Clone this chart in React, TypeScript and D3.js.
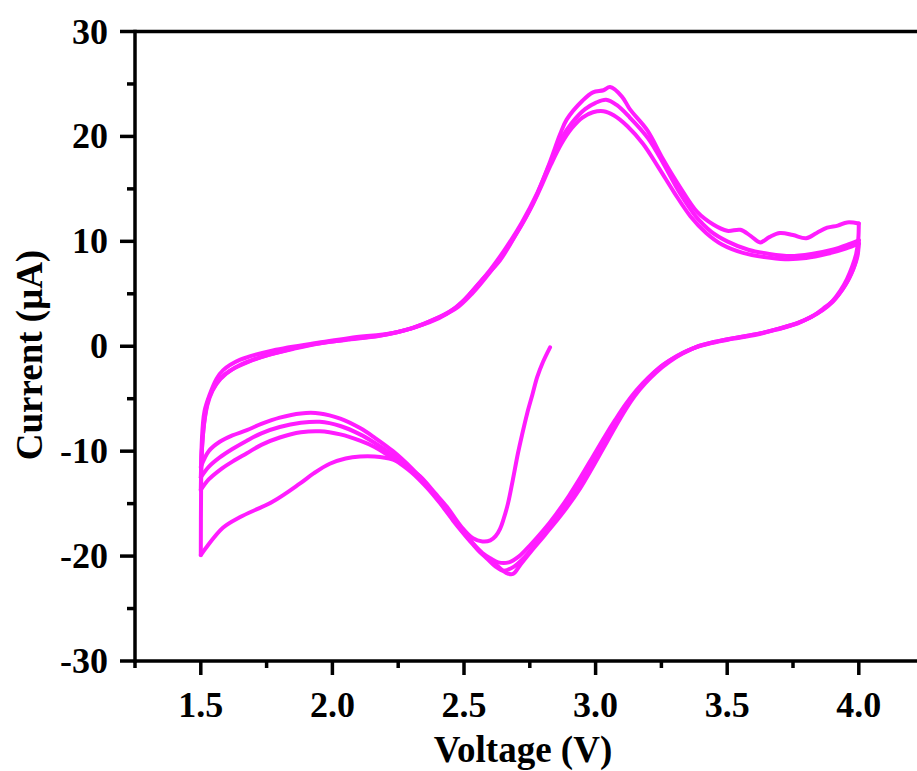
import React from "react";
import * as d3 from "d3";

// ---- Data (Voltage V, Current µA) ----
const initialSweep: [number, number][] = [
  [2.827, -0.1], [2.8, -1.5], [2.778, -2.95], [2.76, -4.6], [2.74, -6.4], [2.72, -8.5], [2.705, -10.2],
  [2.685, -12.8], [2.667, -15.0], [2.65, -16.5], [2.637, -17.4], [2.62, -18.1], [2.6, -18.5], [2.57, -18.6],
  [2.534, -18.3], [2.49, -17.2], [2.435, -15.3], [2.39, -14.0], [2.333, -12.4], [2.28, -11.4], [2.23, -10.8],
  [2.16, -10.5], [2.105, -10.5], [2.05, -10.7], [1.99, -11.2], [1.93, -12.1], [1.876, -13.1], [1.774, -14.8],
  [1.648, -16.3], [1.584, -17.3], [1.52, -19.2], [1.5, -19.9],
];

const forward1: [number, number][] = [
  [1.5, -19.9], [1.501, -14.0], [1.504, -9.0], [1.514, -6.2], [1.534, -4.6], [1.56, -3.1], [1.584, -2.3],
  [1.648, -1.3], [1.774, -0.4], [1.964, 0.4], [2.067, 0.8], [2.245, 1.35], [2.37, 2.3], [2.435, 3.1],
  [2.5, 4.4], [2.56, 6.1], [2.637, 8.2], [2.7, 10.8], [2.762, 13.6], [2.827, 17.6], [2.865, 20.2],
  [2.89, 21.6], [2.95, 23.4], [2.99, 24.2], [3.03, 24.4], [3.055, 24.7], [3.1, 23.8], [3.13, 22.6],
  [3.196, 20.6], [3.257, 17.8], [3.32, 15.2], [3.386, 12.8], [3.447, 11.6], [3.5, 11.0], [3.55, 11.1],
  [3.59, 10.5], [3.625, 9.9], [3.66, 10.4], [3.7, 10.8], [3.75, 10.6], [3.8, 10.3], [3.84, 10.8],
  [3.88, 11.3], [3.92, 11.5], [3.956, 11.8], [4.0, 11.7],
];

const reverse1: [number, number][] = [
  [4.0, 11.7], [3.998, 10.2], [3.99, 8.8], [3.975, 7.6], [3.955, 6.4], [3.93, 5.3], [3.9, 4.3], [3.865, 3.5],
  [3.82, 2.8], [3.766, 2.2], [3.7, 1.7], [3.62, 1.2], [3.53, 0.8], [3.45, 0.4], [3.39, 0.0], [3.33, -0.7],
  [3.28, -1.5], [3.23, -2.5], [3.19, -3.5], [3.15, -4.7], [3.115, -6.0], [3.075, -7.7], [3.03, -9.7],
  [2.985, -11.7], [2.94, -13.6], [2.89, -15.4], [2.84, -17.0], [2.79, -18.5], [2.75, -19.7], [2.715, -20.8],
  [2.686, -21.7], [2.66, -21.6], [2.63, -21.0], [2.6, -20.4], [2.56, -19.6], [2.534, -18.9], [2.49, -17.6],
  [2.458, -16.6], [2.41, -15.0], [2.36, -13.5], [2.3, -12.0], [2.23, -10.7], [2.16, -9.6], [2.105, -9.0],
  [2.03, -8.4], [1.952, -8.1], [1.88, -8.2], [1.8, -8.7], [1.73, -9.4], [1.675, -10.2], [1.62, -11.0],
  [1.572, -11.8], [1.53, -12.7], [1.5, -13.7],
];

const forward2: [number, number][] = [
  [1.5, -13.7], [1.504, -10.0], [1.512, -7.5], [1.525, -5.6], [1.545, -4.2], [1.575, -3.1], [1.62, -2.2],
  [1.68, -1.5], [1.76, -0.8], [1.86, -0.2], [1.96, 0.3], [2.07, 0.7], [2.2, 1.1], [2.3, 1.7], [2.4, 2.7],
  [2.47, 3.7], [2.53, 5.2], [2.6, 7.3], [2.66, 9.4], [2.72, 11.8], [2.78, 14.7], [2.83, 17.6], [2.87, 19.8],
  [2.91, 21.3], [2.96, 22.6], [3.0, 23.2], [3.04, 23.5], [3.08, 23.0], [3.13, 21.8], [3.2, 19.8],
  [3.26, 17.3], [3.32, 14.6], [3.38, 12.4], [3.44, 10.9], [3.5, 10.0], [3.58, 9.2], [3.66, 8.8],
  [3.74, 8.6], [3.82, 8.8], [3.9, 9.2], [3.96, 9.7], [4.0, 10.1],
];

const reverse2: [number, number][] = [
  [4.0, 10.1], [3.995, 8.9], [3.985, 7.8], [3.965, 6.6], [3.94, 5.5], [3.905, 4.4], [3.865, 3.6],
  [3.82, 2.8], [3.766, 2.2], [3.7, 1.7], [3.62, 1.2], [3.53, 0.8], [3.45, 0.4], [3.38, -0.1], [3.32, -0.8],
  [3.26, -1.7], [3.21, -2.8], [3.17, -3.9], [3.13, -5.1], [3.095, -6.5], [3.055, -8.2], [3.01, -10.2],
  [2.965, -12.1], [2.92, -14.0], [2.87, -15.8], [2.82, -17.4], [2.77, -18.9], [2.73, -20.1], [2.69, -21.0],
  [2.65, -21.4], [2.62, -21.0], [2.59, -20.3], [2.56, -19.6], [2.534, -18.8], [2.49, -17.5], [2.458, -16.5],
  [2.41, -14.9], [2.36, -13.3], [2.3, -11.8], [2.23, -10.4], [2.16, -9.2], [2.105, -8.4], [2.03, -7.6],
  [1.952, -7.2], [1.88, -7.3], [1.8, -7.7], [1.73, -8.3], [1.675, -9.0], [1.62, -9.8], [1.572, -10.6],
  [1.53, -11.5], [1.5, -12.5],
];

const forward3: [number, number][] = [
  [1.5, -12.5], [1.505, -9.5], [1.515, -6.8], [1.53, -5.0], [1.555, -3.7], [1.59, -2.7], [1.64, -1.9],
  [1.72, -1.1], [1.82, -0.4], [1.93, 0.2], [2.05, 0.6], [2.18, 1.0], [2.3, 1.7], [2.4, 2.7], [2.47, 3.6],
  [2.53, 5.0], [2.6, 7.1], [2.66, 9.2], [2.72, 11.6], [2.78, 14.5], [2.83, 17.3], [2.87, 19.3], [2.91, 20.8],
  [2.95, 21.8], [2.99, 22.3], [3.03, 22.4], [3.07, 22.0], [3.12, 21.0], [3.18, 19.3], [3.24, 17.0],
  [3.3, 14.6], [3.36, 12.4], [3.42, 10.8], [3.48, 9.7], [3.56, 8.9], [3.64, 8.5], [3.72, 8.3], [3.8, 8.4],
  [3.88, 8.8], [3.95, 9.3], [4.0, 9.8],
];

const reverse3: [number, number][] = [
  [4.0, 9.8], [3.995, 8.6], [3.98, 7.4], [3.96, 6.3], [3.935, 5.3], [3.9, 4.2], [3.86, 3.4], [3.81, 2.7],
  [3.76, 2.1], [3.69, 1.6], [3.61, 1.1], [3.52, 0.7], [3.44, 0.3], [3.37, -0.2], [3.31, -0.9], [3.25, -1.9],
  [3.2, -3.0], [3.155, -4.2], [3.115, -5.5], [3.075, -7.0], [3.035, -8.6], [2.99, -10.5], [2.945, -12.4],
  [2.9, -14.2], [2.85, -16.0], [2.8, -17.6], [2.75, -19.0], [2.71, -20.0], [2.67, -20.6], [2.63, -20.6],
  [2.6, -20.2], [2.57, -19.7], [2.534, -18.8], [2.49, -17.5], [2.458, -16.4], [2.41, -14.8], [2.36, -13.2],
  [2.3, -11.6], [2.23, -10.0], [2.16, -8.7], [2.105, -7.8], [2.03, -6.9], [1.952, -6.4], [1.88, -6.4],
  [1.8, -6.8], [1.73, -7.4], [1.675, -8.0], [1.62, -8.5], [1.572, -9.1], [1.53, -10.0], [1.5, -11.5],
];

const sweeps = [initialSweep, forward1, reverse1, forward2, reverse2, forward3, reverse3];

const xMajorTicks = [1.5, 2.0, 2.5, 3.0, 3.5, 4.0];
const xTickLabels = ["1.5", "2.0", "2.5", "3.0", "3.5", "4.0"];
const xMinorTicks = [1.25, 1.75, 2.25, 2.75, 3.25, 3.75];
const yMajorTicks = [-30, -20, -10, 0, 10, 20, 30];
const yTickLabels = ["-30", "-20", "-10", "0", "10", "20", "30"];
const yMinorTicks = [-25, -15, -5, 5, 15, 25];

const xTitle = "Voltage (V)";
const yTitle = "Current (\u03BCA)";

export default function App() {
  const W = 917;
  const H = 771;
  const x = d3.scaleLinear().domain([1.25, 4.25]).range([135, 924.6]);
  const y = d3.scaleLinear().domain([-30, 30]).range([661, 31.5]);
  const line = d3
    .line<[number, number]>()
    .x((d) => x(d[0]))
    .y((d) => y(d[1]))
    .curve(d3.curveCatmullRom.alpha(0.5));

  const font = "'Liberation Serif', 'Times New Roman', serif";
  const axisColor = "#000";
  const x0 = x.range()[0];
  const x1 = x.range()[1];
  const yb = y.range()[0];
  const yt = y.range()[1];

  return (
    <svg
      width={W}
      height={H}
      style={{ position: "absolute", left: 0, top: 0, background: "#fff" }}
    >
      <rect x={0} y={0} width={W} height={H} fill="#fff" />
      {/* data */}
      <g fill="none" stroke="#ff1cff" strokeWidth={4} strokeLinejoin="round" strokeLinecap="round">
        {sweeps.map((s, i) => (
          <path key={i} d={line(s) || ""} />
        ))}
      </g>
      {/* frame */}
      <g stroke={axisColor} strokeWidth={3.5} fill="none">
        <line x1={x0} y1={yt} x2={x1} y2={yt} />
        <line x1={x0} y1={yb} x2={x1} y2={yb} />
        <line x1={x0} y1={yt - 1.75} x2={x0} y2={yb + 1.75} />
        <line x1={x1} y1={yt} x2={x1} y2={yb} />
      </g>
      {/* ticks */}
      <g stroke={axisColor} strokeWidth={3.5}>
        {yMajorTicks.map((t) => (
          <line key={"ym" + t} x1={x0 - 15} x2={x0} y1={y(t)} y2={y(t)} />
        ))}
        {yMinorTicks.map((t) => (
          <line key={"yn" + t} x1={x0 - 8} x2={x0} y1={y(t)} y2={y(t)} />
        ))}
        {xMajorTicks.map((t) => (
          <line key={"xm" + t} x1={x(t)} x2={x(t)} y1={yb} y2={yb + 14} />
        ))}
        {xMinorTicks.map((t) => (
          <line key={"xn" + t} x1={x(t)} x2={x(t)} y1={yb} y2={yb + 7} />
        ))}
      </g>
      {/* tick labels */}
      <g fontFamily={font} fontWeight="bold" fontSize={36} fill="#000">
        {yMajorTicks.map((t, i) => (
          <text key={"yl" + t} x={108} y={y(t) + 12} textAnchor="end">
            {yTickLabels[i]}
          </text>
        ))}
        {xMajorTicks.map((t, i) => (
          <text key={"xl" + t} x={x(t)} y={717} textAnchor="middle">
            {xTickLabels[i]}
          </text>
        ))}
      </g>
      {/* axis titles */}
      <text
        x={523}
        y={762}
        textAnchor="middle"
        fontFamily={font}
        fontWeight="bold"
        fontSize={37}
        fill="#000"
      >
        {xTitle}
      </text>
      <text
        transform={`translate(42, 355) rotate(-90)`}
        textAnchor="middle"
        fontFamily={font}
        fontWeight="bold"
        fontSize={37}
        fill="#000"
      >
        {yTitle}
      </text>
    </svg>
  );
}
